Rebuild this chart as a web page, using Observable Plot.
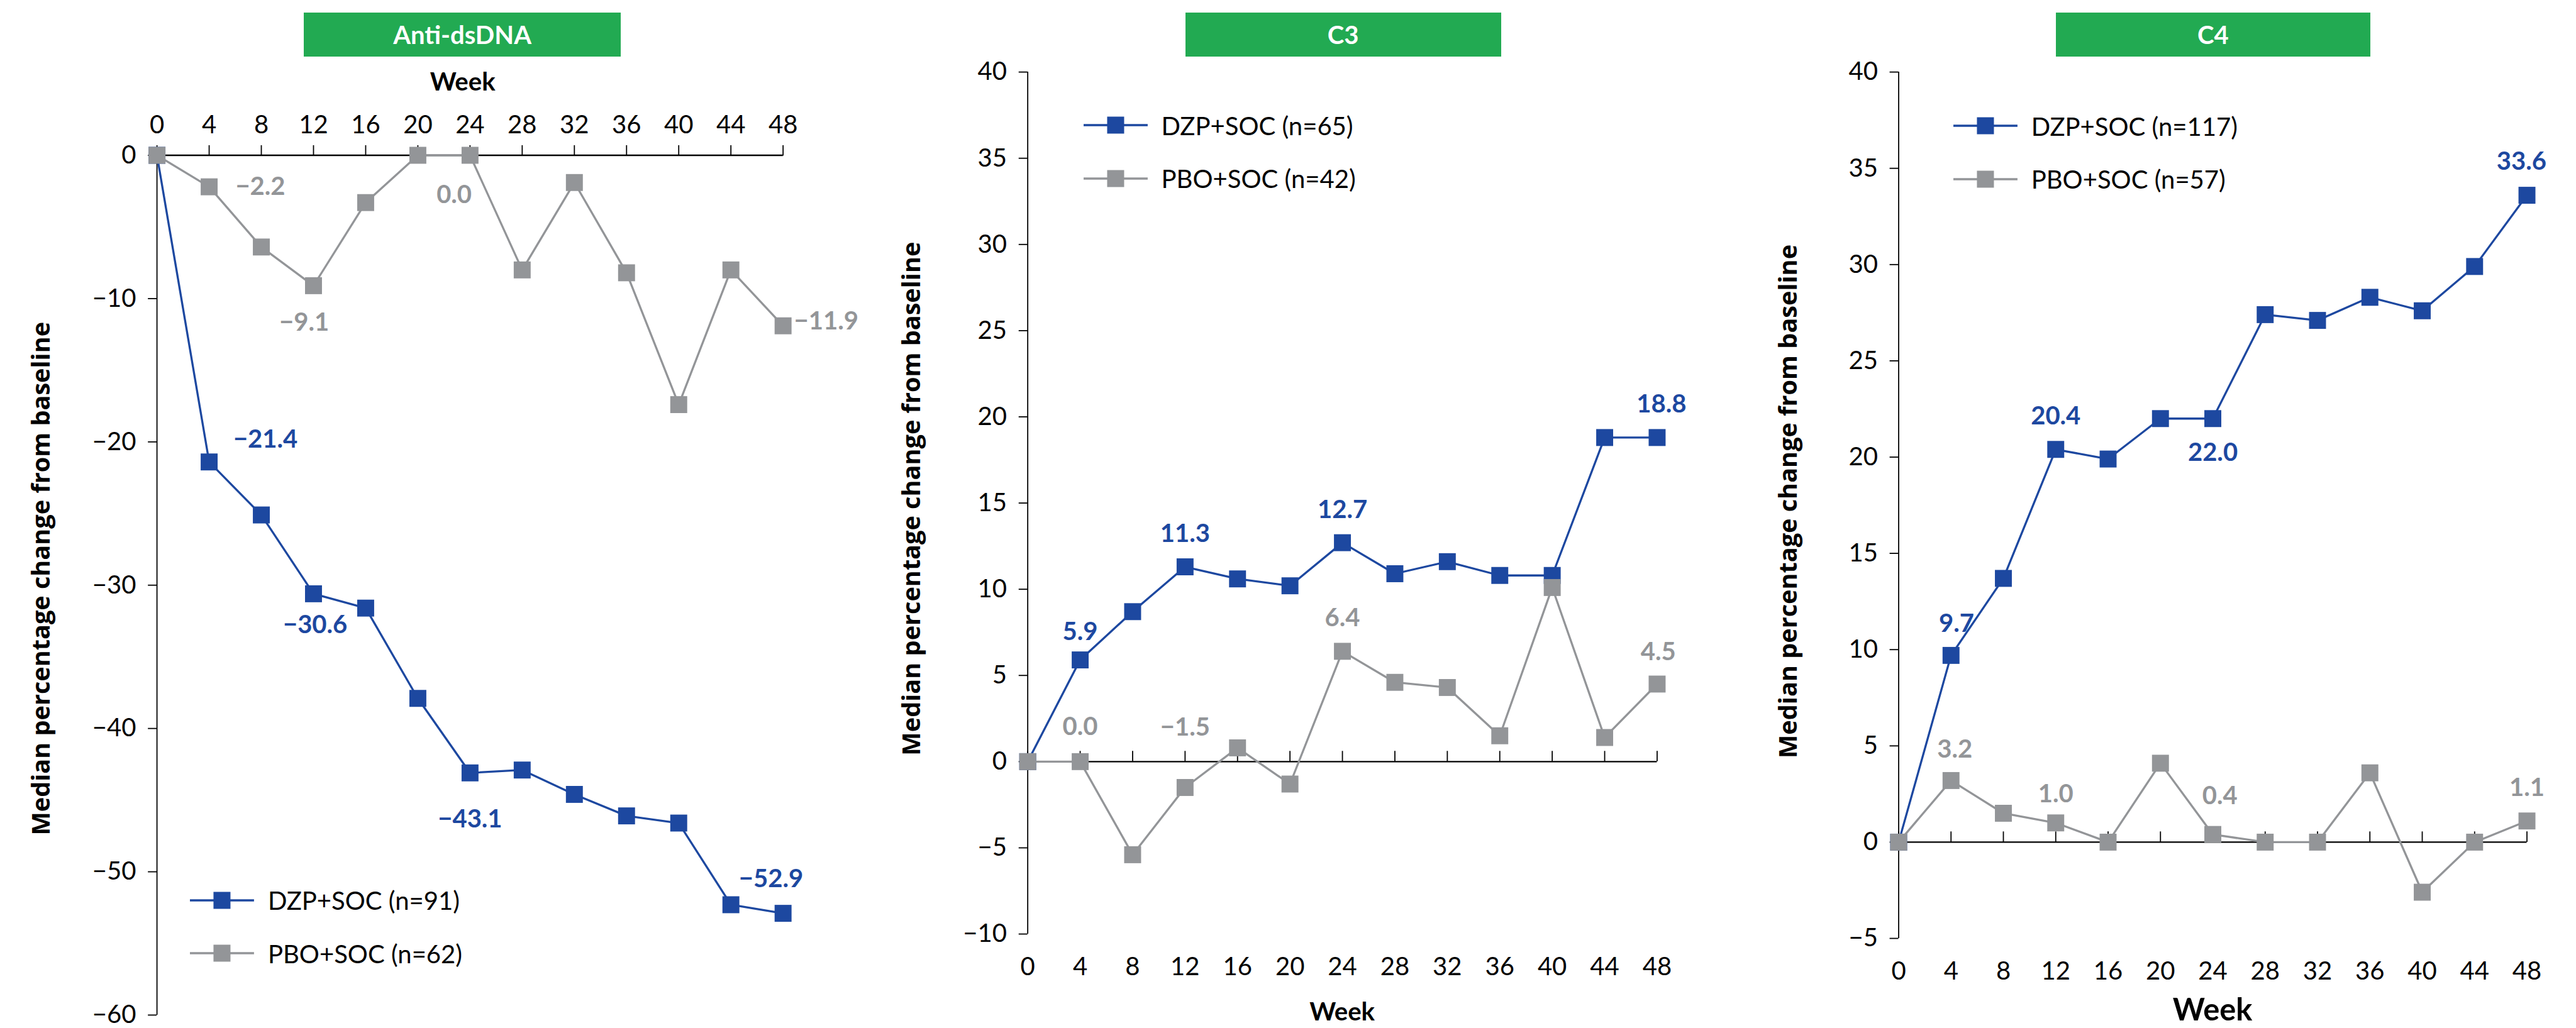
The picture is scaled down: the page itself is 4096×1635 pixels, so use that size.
<!DOCTYPE html>
<html>
<head>
<meta charset="utf-8">
<script src="https://cdn.jsdelivr.net/npm/d3@7"></script>
<script src="https://cdn.jsdelivr.net/npm/@observablehq/plot@0.6"></script>
<style>
  html, body { margin: 0; padding: 0; background: #fff; }
  #root { position: relative; width: 4096px; height: 1635px; overflow: hidden; font-family: Lato, "Open Sans", sans-serif; background: #fff; }
  .panel { position: absolute; top: 0; }
  .hdr { position: absolute; background: #22aa52; color: #fff; font-weight: 700; display: flex; align-items: center; justify-content: center; z-index: 2; }
  .legrow { position: absolute; display: flex; align-items: center; z-index: 2; color: #000; white-space: nowrap; }
</style>
</head>
<body>
<div id="root"></div>
<script>
// ---------------- DATA ----------------
const weeks = [0, 4, 8, 12, 16, 20, 24, 28, 32, 36, 40, 44, 48];
const panelTitles = ["Anti-dsDNA", "C3", "C4"];
const seriesNames = ["DZP+SOC", "PBO+SOC"];
const dsdnaN = [91, 62];
const c3N = [65, 42];
const c4N = [117, 57];

const dsdnaDZP = [0, -21.4, -25.1, -30.6, -31.6, -37.9, -43.1, -42.9, -44.6, -46.1, -46.6, -52.3, -52.9];
const dsdnaPBO = [0, -2.2, -6.4, -9.1, -3.3, 0, 0.0, -8.0, -1.9, -8.2, -17.4, -8.0, -11.9];
const c3DZP = [0, 5.9, 8.7, 11.3, 10.6, 10.2, 12.7, 10.9, 11.6, 10.8, 10.8, 18.8, 18.8];
const c3PBO = [0, 0.0, -5.4, -1.5, 0.8, -1.3, 6.4, 4.6, 4.3, 1.5, 10.1, 1.4, 4.5];
const c4DZP = [0, 9.7, 13.7, 20.4, 19.9, 22.0, 22.0, 27.4, 27.1, 28.3, 27.6, 29.9, 33.6];
const c4PBO = [0, 3.2, 1.5, 1.0, 0, 4.1, 0.4, 0, 0, 3.6, -2.6, 0, 1.1];

const dsdnaTicks = [-60, -50, -40, -30, -20, -10, 0];
const c3Ticks = [-10, -5, 0, 5, 10, 15, 20, 25, 30, 35, 40];
const c4Ticks = [-5, 0, 5, 10, 15, 20, 25, 30, 35, 40];

const labelWeeks = [4, 12, 24, 48];
const xTitle = "Week";
const yTitle = "Median percentage change from baseline";

// ---------------- STYLE / LAYOUT (reference px, scaled by S) ----------------
const S = 0.871;
const BLUE = "#1d48a0", GRAY = "#939598";
const FONT = "Lato, 'Open Sans', sans-serif";
const TITLE_FONT = "'Open Sans', Lato, sans-serif";
const TICK_FS = 46 * S, LABEL_FS = 46 * S, TITLE_FS = 45.5 * S;

const layouts = [
  { left: 0, width: 1540, x0: 286, x1: 1429, top: 283, bottom: 1853, domain: [-60, 0], xAxis: "top",
    titleX: 76, titleY: 1056, weekX: 844, weekY: 150, weekFS: 46, header: [555, 1133],
    legendX: 347, legendY: [1644, 1741],
    offs: { "0:4": [44, -41, "start"], "0:12": [3, 57, "middle"], "0:24": [0, 85, "middle"], "0:48": [-22, -63, "middle"],
            "1:4": [48, 0, "start"], "1:12": [-17, 67, "middle"], "1:24": [-29, 72, "middle"], "1:48": [20, -8, "start"] } },
  { left: 1540, width: 1580, x0: 1876, x1: 3025, top: 131, bottom: 1705, domain: [-10, 40], xAxis: "bottom",
    titleX: 1665, titleY: 910, weekX: 2450, weekY: 1848, weekFS: 46, header: [2164, 2740],
    legendX: 1978, legendY: [229, 326],
    offs: { "0:4": [0, -51, "middle"], "0:12": [0, -60, "middle"], "0:24": [0, -60, "middle"], "0:48": [8, -60, "middle"],
            "1:4": [0, -63, "middle"], "1:12": [0, -110, "middle"], "1:24": [0, -60, "middle"], "1:48": [2, -58, "middle"] } },
  { left: 3120, width: 1581, x0: 3465, x1: 4612, top: 131, bottom: 1713, domain: [-5, 40], xAxis: "bottom",
    titleX: 3264, titleY: 915, weekX: 4038, weekY: 1845, weekFS: 56, header: [3753, 4327],
    legendX: 3566, legendY: [230, 327],
    offs: { "0:4": [10, -58, "middle"], "0:12": [0, -60, "middle"], "0:24": [0, 62, "middle"], "0:48": [-10, -61, "middle"],
            "1:4": [7, -56, "middle"], "1:12": [0, -52, "middle"], "1:24": [13, -70, "middle"], "1:48": [0, -60, "middle"] } }
];

const panelSeries = [[dsdnaDZP, dsdnaPBO], [c3DZP, c3PBO], [c4DZP, c4PBO]];
const panelTicks = [dsdnaTicks, c3Ticks, c4Ticks];
const panelN = [dsdnaN, c3N, c4N];
const colors = [BLUE, GRAY];
const fmt = d3.format(".1f");

const root = document.getElementById("root");

panelSeries.forEach((series, p) => {
  const L = layouts[p];
  const H = 1876 * S;
  const W = L.width * S;
  const rows = series.map((vals, s) => weeks.map((w, j) => ({ week: w, v: vals[j], s })));
  const frameMidY = (L.top + L.bottom) / 2;
  const frameMidX = (L.x0 + L.x1) / 2;

  const marks = [];
  marks.push(Plot.ruleY([0], { stroke: "#000", strokeWidth: 2.4 }));
  marks.push(Plot.ruleX([0], { stroke: "#000", strokeWidth: 1.8 }));
  marks.push(Plot.axisY(panelTicks[p], {
    anchor: "left", tickSize: 16 * S, tickPadding: 22 * S, fontSize: TICK_FS, strokeWidth: 1.8,
    label: null, color: "#000", tickFormat: d3.format("d"), fontFamily: FONT
  }));
  if (L.xAxis === "top") {
    marks.push(Plot.axisX(weeks, {
      anchor: "top", tickSize: 19 * S, tickPadding: 21 * S, fontSize: TICK_FS, strokeWidth: 1.8,
      label: null, color: "#000", fontFamily: FONT
    }));
    marks.push(Plot.text([xTitle], { text: d => d, frameAnchor: "top", lineAnchor: "middle", textAnchor: "middle",
      dx: (L.weekX - frameMidX) * S, dy: (L.weekY - L.top) * S,
      fontWeight: 700, fontSize: L.weekFS * S, fill: "#000", fontFamily: FONT }));
  } else {
    marks.push(Plot.ruleX(weeks, { x: d => d, y1: 0, y2: 0, insetTop: -19 * S, stroke: "#000", strokeWidth: 1.8 }));
    marks.push(Plot.axisX(weeks, {
      anchor: "bottom", tickSize: 0, tickPadding: 42 * S, fontSize: TICK_FS,
      label: null, color: "#000", fontFamily: FONT
    }));
    marks.push(Plot.text([xTitle], { text: d => d, frameAnchor: "bottom", lineAnchor: "middle", textAnchor: "middle",
      dx: (L.weekX - frameMidX) * S, dy: (L.weekY - L.bottom) * S,
      fontWeight: 700, fontSize: L.weekFS * S, fill: "#000", fontFamily: FONT }));
  }
  marks.push(Plot.text([yTitle], { text: d => d, frameAnchor: "left", rotate: -90, textAnchor: "middle", lineAnchor: "middle",
    dx: (L.titleX - L.x0) * S, dy: (L.titleY - frameMidY) * S,
    fontWeight: 700, fontSize: TITLE_FS, fill: "#000", fontFamily: TITLE_FONT }));
  rows.forEach((r, s) => {
    marks.push(Plot.line(r, { x: "week", y: "v", stroke: colors[s], strokeWidth: 3.3 }));
    marks.push(Plot.dot(r, { x: "week", y: "v", symbol: "square", r: 15.2, fill: colors[s], stroke: "none" }));
  });
  rows.forEach((r, s) => {
    labelWeeks.forEach(w => {
      const d = r.find(e => e.week === w);
      const o = L.offs[s + ":" + w];
      marks.push(Plot.text([d], { x: "week", y: "v", text: e => fmt(e.v), fill: colors[s], fontWeight: 700,
        fontSize: LABEL_FS, dx: o[0] * S, dy: o[1] * S, textAnchor: o[2], lineAnchor: "middle", fontFamily: FONT }));
    });
  });

  const chart = Plot.plot({
    width: W, height: H,
    marginLeft: (L.x0 - L.left) * S, marginRight: (L.left + L.width - L.x1) * S,
    marginTop: L.top * S, marginBottom: (1876 - L.bottom) * S,
    x: { domain: [0, 48], axis: null },
    y: { domain: L.domain, axis: null },
    style: { background: "transparent", overflow: "visible", maxWidth: "none", fontFamily: FONT, color: "#000" },
    marks
  });
  chart.classList.add("panel");
  chart.style.left = (L.left * S) + "px";
  root.appendChild(chart);

  const hdr = document.createElement("div");
  hdr.className = "hdr";
  hdr.style.left = (L.header[0] * S) + "px";
  hdr.style.top = (23 * S) + "px";
  hdr.style.width = ((L.header[1] - L.header[0]) * S) + "px";
  hdr.style.height = (80 * S) + "px";
  hdr.style.fontSize = (46 * S) + "px";
  hdr.textContent = panelTitles[p];
  root.appendChild(hdr);

  seriesNames.forEach((name, s) => {
    const row = document.createElement("div");
    row.className = "legrow";
    const h = 40;
    row.style.left = (L.legendX * S) + "px";
    row.style.top = (L.legendY[s] * S - h / 2) + "px";
    row.style.height = h + "px";
    row.style.fontSize = (46 * S) + "px";
    const lw = 117 * S, sq = 31 * S;
    const svgNS = "http://www.w3.org/2000/svg";
    const svg = document.createElementNS(svgNS, "svg");
    svg.setAttribute("width", lw); svg.setAttribute("height", h);
    const ln = document.createElementNS(svgNS, "line");
    ln.setAttribute("x1", 0); ln.setAttribute("x2", lw); ln.setAttribute("y1", h / 2); ln.setAttribute("y2", h / 2);
    ln.setAttribute("stroke", colors[s]); ln.setAttribute("stroke-width", 3.3);
    const rc = document.createElementNS(svgNS, "rect");
    rc.setAttribute("x", lw / 2 - sq / 2); rc.setAttribute("y", h / 2 - sq / 2);
    rc.setAttribute("width", sq); rc.setAttribute("height", sq); rc.setAttribute("fill", colors[s]);
    svg.appendChild(ln); svg.appendChild(rc);
    row.appendChild(svg);
    const sp = document.createElement("span");
    sp.style.marginLeft = (25 * S) + "px";
    sp.textContent = name + " (n=" + panelN[p][s] + ")";
    row.appendChild(sp);
    root.appendChild(row);
  });
});
</script>
</body>
</html>
